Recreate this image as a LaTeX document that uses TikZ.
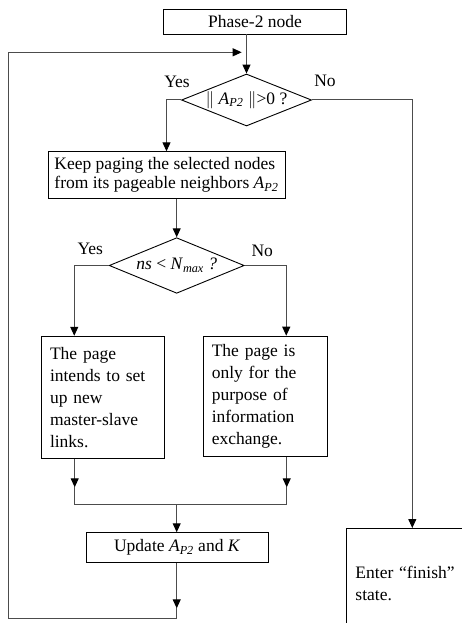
\documentclass[tikz,border=0pt]{standalone}
\usepackage{fontspec}
\setmainfont{Liberation Serif}
\usetikzlibrary{shapes.geometric,arrows.meta,calc}
\newcommand{\apt}{\textit{A}\textsubscript{\textit{P2}}}

\begin{document}
\begin{tikzpicture}[x=1pt,y=1pt,
		every node/.style={font=\fontsize{17.5}{22}\selectfont},
		box/.style={draw,line width=0.9pt,inner sep=0pt},
		test/.style={draw,diamond,aspect=2.5,line width=0.9pt,inner sep=0pt},
		line/.style={draw=black!70,line width=1pt},
		arr/.style={line,-{Triangle[length=9pt,width=8pt,color=black]}}]
			\useasboundingbox (0,0) rectangle (462,-623);
			\clip (0,0) rectangle (462,-623);
			% boxes and tests
			\node[box,minimum width=183,minimum height=25] (start) at (255,-21.5) {Phase-2 node};
			\node[test,minimum width=130,minimum height=52] (d1) at (246.5,-100) {$\|$ \apt\ $\|$>0 ?};
			\node[box,minimum width=237,minimum height=46.5,align=left] (keep) at (166.5,-175) {Keep paging the selected nodes\\[-2.5pt]from its pageable neighbors \apt};
			\node[test,minimum width=135,minimum height=55.6] (d2) at (176.7,-265.5) {\textit{ns} < \textit{N}\textsubscript{\textit{max}} \textit{?}};
			\node[box,minimum width=122.6,minimum height=122,text width=106,align=left] (pl) at (103,-397.2) {The page\\intends to set\\up new\\master-slave\\links.};
			\node[box,minimum width=124,minimum height=120.7,text width=107,align=left] (pr) at (265.3,-396.5) {The page is\\only for the\\purpose of\\information\\exchange.};
			\node[box,minimum width=182.3,minimum height=29.6] (upd) at (177.2,-547.5) {Update \apt{} and \textit{K}};
			\node[box,anchor=north west,minimum width=140,minimum height=110,text width=122,align=left] (fin) at (346,-528) {Enter “finish”\\state.};
			% labels
			\node (yes1) at (177,-82) {Yes};
			\node (no1) at (325,-81) {No};
			\node (yes2) at (90.3,-249.3) {Yes};
			\node (no2) at (262.3,-250.7) {No};
			% connectors
			\draw[arr] (start.south -| d1.north) -- (d1.north);
			\draw[arr] (d1.west) -| (keep.north);
			\draw[arr] (d1.east) -| ($(fin.north west)+(66.3,0)$);
			\draw[arr] (keep.south -| d2.north) -- (d2.north);
			\draw[arr] (d2.west) -| ($(pl.north west)+(33,0)$);
			\draw[arr] (d2.east) -| ($(pr.north west)+(83.4,0)$);
			\coordinate (tipl) at (74.7,-487.3);
			\coordinate (tipr) at (286.7,-487.3);
			\coordinate (merge) at (176.7,-504.3);
			\draw[arr] (pl.south -| tipl) -- (tipl);
			\draw[arr] (pr.south -| tipr) -- (tipr);
			\draw[line] (tipl) -- (tipl |- merge) -- (tipr |- merge) -- (tipr);
			\draw[arr] (merge) -- (upd.north -| merge);
			% loop back
			\coordinate (tipb) at (176.7,-608.3);
			\coordinate (lbot) at (8.3,-618.3);
			\coordinate (lend) at (241.7,-52.3);
			\draw[arr] (upd.south -| tipb) -- (tipb);
			\draw[arr] (tipb) -- (tipb |- lbot) -- (lbot) -- (lbot |- lend) -- (lend);
		\end{tikzpicture}
\end{document}
